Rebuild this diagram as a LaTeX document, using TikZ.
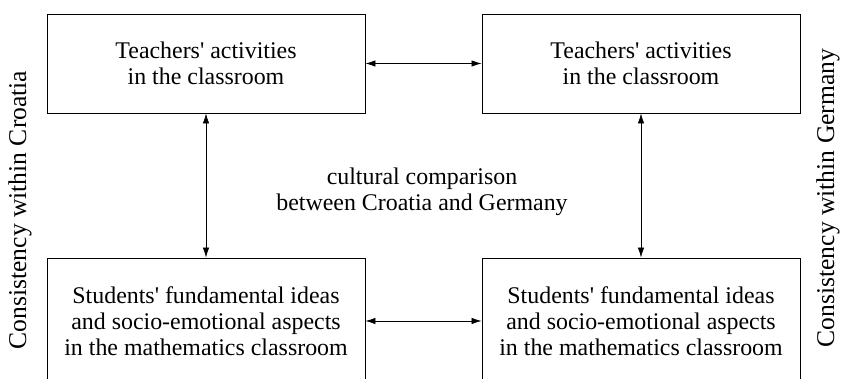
\documentclass[tikz,border=0pt]{standalone}
\usepackage{fontspec}
\setmainfont{Liberation Serif}
\usetikzlibrary{arrows.meta}

\begin{document}
\begin{tikzpicture}[
  box/.style={draw, line width=.6pt, minimum width=7.95cm, align=center,
    font=\fontsize{17}{18.5}\selectfont},
  lbl/.style={align=center, font=\fontsize{17}{18.5}\selectfont},
  side/.style={rotate=90, font=\fontsize{18.2}{20}\selectfont},
  link/.style={{Latex[length=2.5mm,width=1.6mm]}-{Latex[length=2.5mm,width=1.6mm]}, line width=.5pt}]
\useasboundingbox (0,0) rectangle (21.05,9.475);
% teachers
\node [box, minimum height=2.475cm] (tcro) at (5.15,7.8875) {Teachers\textquotesingle{} activities\\in the classroom};
\node [box, minimum height=2.475cm] (tger) at (16.025,7.8875) {Teachers\textquotesingle{} activities\\in the classroom};
% students
\node [box, minimum height=3.15cm] (scro) at (5.15,1.45) {Students\textquotesingle{} fundamental ideas\\and socio-emotional aspects\\in the mathematics classroom};
\node [box, minimum height=3.15cm] (sger) at (16.025,1.45) {Students\textquotesingle{} fundamental ideas\\and socio-emotional aspects\\in the mathematics classroom};
% links
\draw [link] (tcro) -- (tger);
\draw [link] (scro) -- (sger);
\draw [link] (tcro) -- (scro);
\draw [link] (tger) -- (sger);
% labels
\node [lbl] (cmp) at (10.55,4.675) {cultural comparison\\between Croatia and Germany};
\node [side] (ccro) at (0.5,4.225) {Consistency within Croatia};
\node [side] (cger) at (20.7,4.525) {Consistency within Germany};
\end{tikzpicture}
\end{document}
